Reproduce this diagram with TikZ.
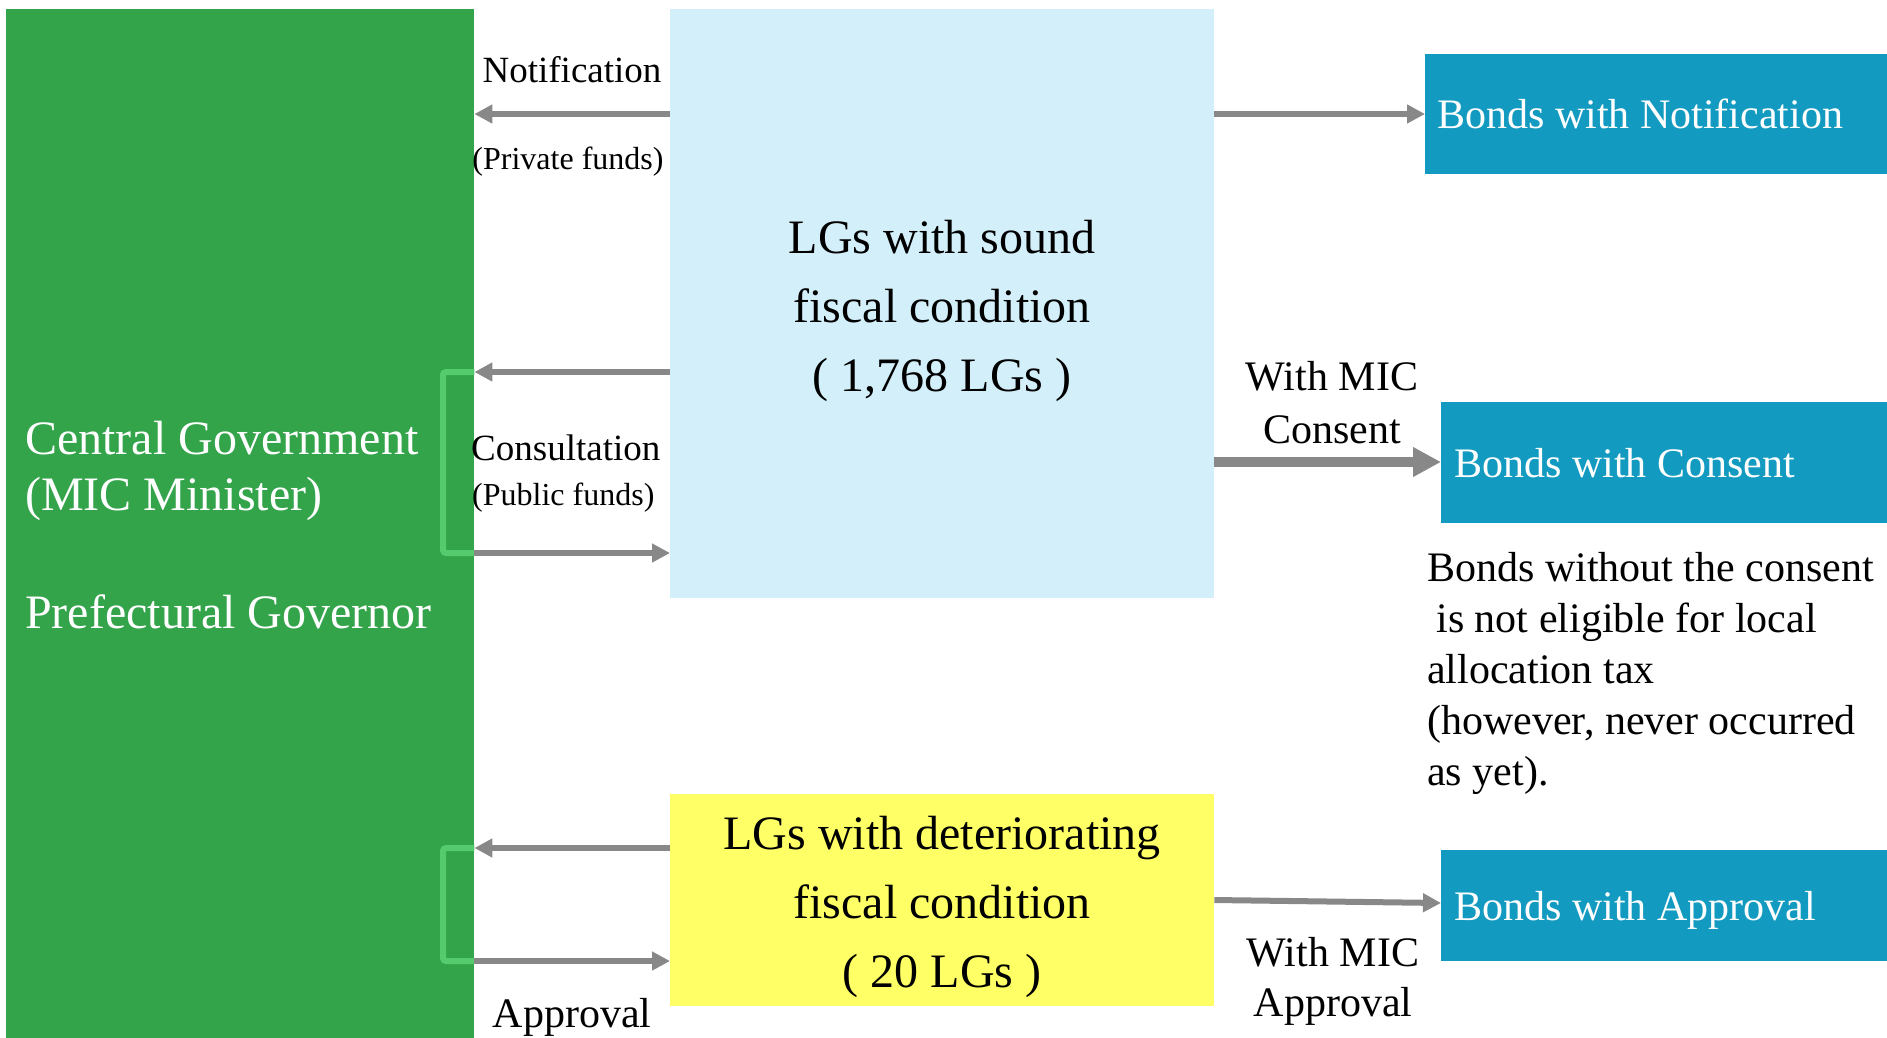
\documentclass[tikz,border=0pt]{standalone}
\usepackage{fontspec}
\setmainfont{Liberation Serif}
\usetikzlibrary{arrows.meta,positioning}

\definecolor{govgreen}{HTML}{34A44B}
\definecolor{brackgreen}{HTML}{55CB6E}
\definecolor{soundblue}{HTML}{D3EFF9}
\definecolor{deteryellow}{HTML}{FFFF66}
\definecolor{bondblue}{HTML}{129AC0}
\definecolor{arrowgray}{HTML}{888888}
\newcommand{\txtsize}[2]{\fontsize{#1}{#2}\selectfont}

\begin{document}
\begin{tikzpicture}[x=1pt,y=-1pt]
\tikzstyle{box}=[rectangle, inner sep=0pt, anchor=north west]
\tikzstyle{bond}=[box, fill=bondblue, text=white, align=flush left, text height=29pt, text depth=0pt, font=\txtsize{42}{50}]
\tikzstyle{tag}=[inner sep=0pt, font=\txtsize{42}{50}]
\tikzstyle{connect}=[-{Triangle[length=18pt,width=18pt]}, line width=6pt, draw=arrowgray]
\tikzstyle{bracket}=[line width=6pt, draw=brackgreen, rounded corners=3pt]
\useasboundingbox (0,0) rectangle (1887,1037);
  \node[box, fill=govgreen, text=white, minimum width=468pt, minimum height=1032pt, text width=430pt, inner xsep=18pt, align=flush left, font=\txtsize{48}{56}] (gov) at (6,9)
    {Central Government\\(MIC Minister)\\[62pt]Prefectural Governor};
  \node[box, fill=soundblue, minimum width=544pt, minimum height=589pt] (sound) at (670,9) {};
  \node[box, fill=deteryellow, minimum width=544pt, minimum height=212pt] (deter) at (670,794) {};
  \node[tag, align=center, font=\txtsize{48}{69}] (sound-t) at ([yshift=-7pt]sound.center)
    {LGs with sound\\fiscal condition\\( 1,768 LGs )};
  \node[tag, align=center, font=\txtsize{48}{69}] (deter-t) at ([yshift=-7pt]deter.center)
    {LGs with deteriorating\\fiscal condition\\( 20 LGs )};
\node[bond, minimum width=462pt, minimum height=120pt, text width=438pt, inner xsep=12pt] (notif) at (1425,54) {Bonds with Notification};
\node[bond, minimum width=446pt, minimum height=121pt, text width=420pt, inner xsep=13pt] (consent) at (1441,402) {Bonds with Consent};
\node[bond, minimum width=446pt, minimum height=111pt, text width=420pt, inner xsep=13pt] (approval) at (1441,850) {Bonds with Approval};
  % labels between the boxes
  \node[tag, font=\txtsize{37}{44}] (notif-t) at (572,70) {Notification};
  \node[tag, font=\txtsize{32}{38}] (private-t) at (568,162) {(Private funds)};
  \node[tag, anchor=west, font=\txtsize{37}{44}] (consult-t) at (471,448) {Consultation};
  \node[tag, anchor=west, font=\txtsize{32}{38}] (public-t) at (472,498) {(Public funds)};
  \node[tag] (approval-t) at (572,1017) {Approval};
  \node[tag, align=center, font=\txtsize{42}{53}] (consent-t) at (1332,403) {With MIC\\Consent};
  \node[tag, align=center] (micappr-t) at (1333,981) {With MIC\\Approval};
  \node[tag, anchor=west, align=left, font=\txtsize{42}{51}] (note-t) at (1427,673)
    {Bonds without the consent\\\hspace*{0.22em}is not eligible for local\\allocation tax\\(however, never occurred\\as yet).};
  % brackets
  \draw[bracket] (gov.east |- 0,372) -| (443,553) -- (gov.east |- 0,553);
  \draw[bracket] (gov.east |- 0,848) -| (443,961) -- (gov.east |- 0,961);
  % arrows
  \draw[connect] (sound.west |- 0,114) -- (gov.east |- 0,114);
  \draw[connect] (sound.east |- 0,114) -- (notif.west |- 0,114);
  \draw[connect] (sound.west |- 0,372) -- (gov.east |- 0,372);
  \draw[connect] (gov.east |- 0,553) -- (sound.west |- 0,553);
  \draw[connect, line width=10pt, -{Triangle[length=28pt,width=28pt]}] (sound.east |- 0,462) -- (consent.west |- 0,462);
  \draw[connect] (deter.west |- 0,848) -- (gov.east |- 0,848);
  \draw[connect] (gov.east |- 0,961) -- (deter.west |- 0,961);
  \draw[connect] (deter.east |- 0,900) -- (approval.west |- 0,903);
\end{tikzpicture}
\end{document}
